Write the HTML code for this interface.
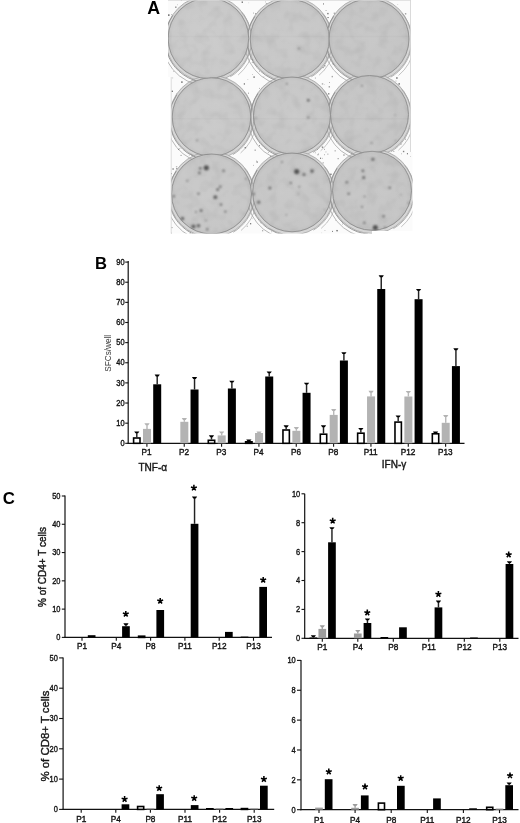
<!DOCTYPE html>
<html><head><meta charset="utf-8"><title>Figure</title>
<style>
html,body{margin:0;padding:0;background:#fff;overflow:hidden;}
svg{display:block;filter:blur(0.35px);}
.f{font-family:"Liberation Sans",sans-serif;}
.s{stroke:#111;stroke-width:0.38px;}
</style></head>
<body>
<svg width="520" height="823" viewBox="0 0 520 823">
<rect width="520" height="823" fill="#fff"/>
<defs>
<radialGradient id="pg0" cx="50%" cy="50%" r="50%"><stop offset="0" stop-color="rgb(203,203,203)"/><stop offset="0.9" stop-color="rgb(201,201,201)"/><stop offset="0.97" stop-color="rgb(196,196,196)"/><stop offset="1" stop-color="rgb(177,177,177)"/></radialGradient>
<radialGradient id="pg1" cx="50%" cy="50%" r="50%"><stop offset="0" stop-color="rgb(201,201,201)"/><stop offset="0.9" stop-color="rgb(199,199,199)"/><stop offset="0.97" stop-color="rgb(194,194,194)"/><stop offset="1" stop-color="rgb(175,175,175)"/></radialGradient>
<radialGradient id="pg2" cx="50%" cy="50%" r="50%"><stop offset="0" stop-color="rgb(199,199,199)"/><stop offset="0.9" stop-color="rgb(197,197,197)"/><stop offset="0.97" stop-color="rgb(192,192,192)"/><stop offset="1" stop-color="rgb(173,173,173)"/></radialGradient>
<radialGradient id="pg3" cx="50%" cy="50%" r="50%"><stop offset="0" stop-color="rgb(202,202,202)"/><stop offset="0.9" stop-color="rgb(200,200,200)"/><stop offset="0.97" stop-color="rgb(195,195,195)"/><stop offset="1" stop-color="rgb(176,176,176)"/></radialGradient>
<radialGradient id="pg4" cx="50%" cy="50%" r="50%"><stop offset="0" stop-color="rgb(201,201,201)"/><stop offset="0.9" stop-color="rgb(199,199,199)"/><stop offset="0.97" stop-color="rgb(194,194,194)"/><stop offset="1" stop-color="rgb(175,175,175)"/></radialGradient>
<radialGradient id="pg5" cx="50%" cy="50%" r="50%"><stop offset="0" stop-color="rgb(199,199,199)"/><stop offset="0.9" stop-color="rgb(197,197,197)"/><stop offset="0.97" stop-color="rgb(192,192,192)"/><stop offset="1" stop-color="rgb(173,173,173)"/></radialGradient>
<radialGradient id="pg6" cx="50%" cy="50%" r="50%"><stop offset="0" stop-color="rgb(201,201,201)"/><stop offset="0.9" stop-color="rgb(199,199,199)"/><stop offset="0.97" stop-color="rgb(194,194,194)"/><stop offset="1" stop-color="rgb(175,175,175)"/></radialGradient>
<radialGradient id="pg7" cx="50%" cy="50%" r="50%"><stop offset="0" stop-color="rgb(200,200,200)"/><stop offset="0.9" stop-color="rgb(198,198,198)"/><stop offset="0.97" stop-color="rgb(193,193,193)"/><stop offset="1" stop-color="rgb(174,174,174)"/></radialGradient>
<radialGradient id="pg8" cx="50%" cy="50%" r="50%"><stop offset="0" stop-color="rgb(199,199,199)"/><stop offset="0.9" stop-color="rgb(197,197,197)"/><stop offset="0.97" stop-color="rgb(192,192,192)"/><stop offset="1" stop-color="rgb(173,173,173)"/></radialGradient>
<filter id="bl" x="-1" y="-1" width="3" height="3"><feGaussianBlur stdDeviation="0.8"/></filter>
<filter id="bl2" x="-1" y="-1" width="3" height="3"><feGaussianBlur stdDeviation="0.45"/></filter>
<clipPath id="clipA"><path d="M168 0 H410.5 V152 H412.5 V231 H372 V233.5 H171 V77 H168 Z"/></clipPath>
</defs>
<g clip-path="url(#clipA)">
<rect x="168" y="0" width="246" height="236" fill="#fbfbfb"/>
<rect x="327.5" y="17.0" width="1.1" height="1.1" fill="rgb(94,94,94)"/>
<rect x="251.8" y="218.4" width="0.7" height="0.7" fill="rgb(177,177,177)"/>
<rect x="398.5" y="83.2" width="1.4" height="1.4" fill="rgb(99,99,99)"/>
<rect x="169.0" y="98.0" width="1.1" height="1.1" fill="rgb(164,164,164)"/>
<rect x="333.7" y="12.6" width="1.4" height="1.4" fill="rgb(170,170,170)"/>
<rect x="180.9" y="0.1" width="0.7" height="0.7" fill="rgb(108,108,108)"/>
<rect x="400.5" y="143.6" width="0.9" height="0.9" fill="rgb(88,88,88)"/>
<rect x="251.9" y="62.0" width="0.7" height="0.7" fill="rgb(111,111,111)"/>
<rect x="256.6" y="161.5" width="1.1" height="1.1" fill="rgb(76,76,76)"/>
<rect x="175.1" y="6.5" width="1.4" height="1.4" fill="rgb(141,141,141)"/>
<rect x="397.6" y="231.2" width="0.7" height="0.7" fill="rgb(163,163,163)"/>
<rect x="188.8" y="154.6" width="0.9" height="0.9" fill="rgb(169,169,169)"/>
<rect x="329.0" y="82.0" width="0.7" height="0.7" fill="rgb(103,103,103)"/>
<rect x="171.5" y="227.2" width="0.9" height="0.9" fill="rgb(96,96,96)"/>
<rect x="169.0" y="187.0" width="0.9" height="0.9" fill="rgb(114,114,114)"/>
<rect x="343.4" y="154.5" width="1.1" height="1.1" fill="rgb(106,106,106)"/>
<rect x="172.4" y="77.6" width="0.7" height="0.7" fill="rgb(145,145,145)"/>
<rect x="170.8" y="232.7" width="1.1" height="1.1" fill="rgb(176,176,176)"/>
<rect x="332.7" y="63.3" width="1.1" height="1.1" fill="rgb(74,74,74)"/>
<rect x="177.1" y="4.3" width="0.9" height="0.9" fill="rgb(199,199,199)"/>
<rect x="327.3" y="153.6" width="1.1" height="1.1" fill="rgb(170,170,170)"/>
<rect x="336.5" y="229.9" width="0.9" height="0.9" fill="rgb(157,157,157)"/>
<rect x="253.2" y="12.7" width="0.7" height="0.7" fill="rgb(103,103,103)"/>
<rect x="243.8" y="83.4" width="1.1" height="1.1" fill="rgb(70,70,70)"/>
<rect x="173.5" y="71.2" width="0.7" height="0.7" fill="rgb(129,129,129)"/>
<rect x="263.4" y="76.3" width="0.9" height="0.9" fill="rgb(196,196,196)"/>
<rect x="342.2" y="223.7" width="0.7" height="0.7" fill="rgb(128,128,128)"/>
<rect x="321.8" y="146.5" width="1.4" height="1.4" fill="rgb(132,132,132)"/>
<rect x="179.5" y="148.1" width="0.7" height="0.7" fill="rgb(120,120,120)"/>
<rect x="314.9" y="77.6" width="0.9" height="0.9" fill="rgb(147,147,147)"/>
<rect x="171.1" y="14.2" width="0.7" height="0.7" fill="rgb(138,138,138)"/>
<rect x="337.6" y="158.1" width="1.1" height="1.1" fill="rgb(144,144,144)"/>
<rect x="397.4" y="4.1" width="0.7" height="0.7" fill="rgb(187,187,187)"/>
<rect x="168.9" y="115.1" width="1.4" height="1.4" fill="rgb(185,185,185)"/>
<rect x="252.3" y="74.0" width="0.7" height="0.7" fill="rgb(154,154,154)"/>
<rect x="247.5" y="79.2" width="0.7" height="0.7" fill="rgb(171,171,171)"/>
<rect x="170.9" y="173.1" width="1.1" height="1.1" fill="rgb(134,134,134)"/>
<rect x="180.6" y="154.9" width="0.9" height="0.9" fill="rgb(108,108,108)"/>
<rect x="256.2" y="160.7" width="0.7" height="0.7" fill="rgb(125,125,125)"/>
<rect x="175.9" y="166.0" width="1.4" height="1.4" fill="rgb(191,191,191)"/>
<rect x="168.0" y="91.6" width="1.4" height="1.4" fill="rgb(189,189,189)"/>
<rect x="335.1" y="220.3" width="0.7" height="0.7" fill="rgb(187,187,187)"/>
<rect x="393.4" y="151.0" width="0.9" height="0.9" fill="rgb(147,147,147)"/>
<rect x="168.3" y="125.8" width="1.1" height="1.1" fill="rgb(187,187,187)"/>
<rect x="402.9" y="150.8" width="1.4" height="1.4" fill="rgb(132,132,132)"/>
<rect x="327.2" y="12.9" width="1.4" height="1.4" fill="rgb(119,119,119)"/>
<rect x="265.1" y="1.6" width="0.7" height="0.7" fill="rgb(144,144,144)"/>
<rect x="270.2" y="155.7" width="1.4" height="1.4" fill="rgb(107,107,107)"/>
<rect x="250.1" y="223.2" width="1.1" height="1.1" fill="rgb(81,81,81)"/>
<rect x="267.9" y="152.0" width="1.1" height="1.1" fill="rgb(193,193,193)"/>
<rect x="271.2" y="231.3" width="0.9" height="0.9" fill="rgb(184,184,184)"/>
<rect x="320.0" y="157.7" width="1.1" height="1.1" fill="rgb(101,101,101)"/>
<rect x="248.0" y="92.7" width="0.9" height="0.9" fill="rgb(132,132,132)"/>
<rect x="169.1" y="206.6" width="1.4" height="1.4" fill="rgb(129,129,129)"/>
<rect x="314.9" y="152.5" width="0.7" height="0.7" fill="rgb(122,122,122)"/>
<rect x="259.1" y="145.3" width="0.9" height="0.9" fill="rgb(89,89,89)"/>
<rect x="328.0" y="93.1" width="1.4" height="1.4" fill="rgb(139,139,139)"/>
<rect x="410.1" y="156.3" width="0.7" height="0.7" fill="rgb(176,176,176)"/>
<rect x="379.7" y="233.2" width="0.9" height="0.9" fill="rgb(163,163,163)"/>
<rect x="316.9" y="148.9" width="0.9" height="0.9" fill="rgb(92,92,92)"/>
<rect x="331.6" y="75.9" width="1.4" height="1.4" fill="rgb(169,169,169)"/>
<rect x="178.0" y="148.9" width="1.1" height="1.1" fill="rgb(91,91,91)"/>
<rect x="260.6" y="222.5" width="0.7" height="0.7" fill="rgb(104,104,104)"/>
<rect x="378.0" y="233.1" width="0.9" height="0.9" fill="rgb(98,98,98)"/>
<rect x="324.0" y="65.1" width="1.4" height="1.4" fill="rgb(153,153,153)"/>
<rect x="323.9" y="84.2" width="0.7" height="0.7" fill="rgb(185,185,185)"/>
<rect x="259.0" y="87.9" width="0.9" height="0.9" fill="rgb(164,164,164)"/>
<rect x="324.6" y="230.3" width="0.7" height="0.7" fill="rgb(150,150,150)"/>
<rect x="404.9" y="13.1" width="1.4" height="1.4" fill="rgb(159,159,159)"/>
<rect x="168.1" y="14.4" width="1.4" height="1.4" fill="rgb(76,76,76)"/>
<rect x="318.1" y="153.7" width="0.9" height="0.9" fill="rgb(120,120,120)"/>
<rect x="325.5" y="151.5" width="0.9" height="0.9" fill="rgb(176,176,176)"/>
<rect x="321.4" y="232.6" width="0.7" height="0.7" fill="rgb(192,192,192)"/>
<rect x="412.2" y="61.2" width="0.7" height="0.7" fill="rgb(79,79,79)"/>
<rect x="322.5" y="162.1" width="1.4" height="1.4" fill="rgb(190,190,190)"/>
<rect x="395.6" y="80.7" width="0.7" height="0.7" fill="rgb(106,106,106)"/>
<rect x="325.7" y="10.0" width="0.7" height="0.7" fill="rgb(87,87,87)"/>
<rect x="322.7" y="67.2" width="0.9" height="0.9" fill="rgb(95,95,95)"/>
<rect x="246.6" y="225.6" width="1.4" height="1.4" fill="rgb(198,198,198)"/>
<rect x="253.0" y="164.9" width="0.7" height="0.7" fill="rgb(125,125,125)"/>
<rect x="181.2" y="81.4" width="1.4" height="1.4" fill="rgb(94,94,94)"/>
<rect x="405.0" y="138.7" width="0.9" height="0.9" fill="rgb(136,136,136)"/>
<rect x="321.8" y="83.2" width="1.4" height="1.4" fill="rgb(172,172,172)"/>
<rect x="259.1" y="70.9" width="0.9" height="0.9" fill="rgb(179,179,179)"/>
<rect x="253.4" y="76.4" width="1.4" height="1.4" fill="rgb(109,109,109)"/>
<rect x="330.2" y="173.6" width="1.4" height="1.4" fill="rgb(113,113,113)"/>
<rect x="262.1" y="230.2" width="1.1" height="1.1" fill="rgb(147,147,147)"/>
<rect x="176.3" y="93.4" width="0.9" height="0.9" fill="rgb(181,181,181)"/>
<rect x="334.5" y="150.1" width="1.4" height="1.4" fill="rgb(186,186,186)"/>
<rect x="244.7" y="147.0" width="1.4" height="1.4" fill="rgb(95,95,95)"/>
<rect x="248.4" y="2.5" width="0.7" height="0.7" fill="rgb(195,195,195)"/>
<rect x="255.1" y="13.2" width="1.4" height="1.4" fill="rgb(140,140,140)"/>
<rect x="265.9" y="3.1" width="1.4" height="1.4" fill="rgb(177,177,177)"/>
<rect x="322.0" y="157.9" width="0.7" height="0.7" fill="rgb(137,137,137)"/>
<rect x="254.5" y="149.5" width="1.4" height="1.4" fill="rgb(175,175,175)"/>
<rect x="336.4" y="230.0" width="1.4" height="1.4" fill="rgb(117,117,117)"/>
<rect x="168.7" y="168.9" width="1.1" height="1.1" fill="rgb(141,141,141)"/>
<rect x="324.1" y="154.3" width="0.9" height="0.9" fill="rgb(162,162,162)"/>
<rect x="323.1" y="3.5" width="0.9" height="0.9" fill="rgb(72,72,72)"/>
<rect x="401.2" y="153.5" width="0.7" height="0.7" fill="rgb(134,134,134)"/>
<rect x="324.0" y="69.5" width="0.9" height="0.9" fill="rgb(196,196,196)"/>
<rect x="324.1" y="148.9" width="0.7" height="0.7" fill="rgb(77,77,77)"/>
<rect x="396.2" y="77.3" width="1.4" height="1.4" fill="rgb(94,94,94)"/>
<rect x="176.3" y="168.1" width="1.1" height="1.1" fill="rgb(102,102,102)"/>
<rect x="191.1" y="154.2" width="1.4" height="1.4" fill="rgb(157,157,157)"/>
<rect x="251.8" y="58.9" width="1.1" height="1.1" fill="rgb(83,83,83)"/>
<rect x="406.9" y="153.2" width="1.1" height="1.1" fill="rgb(100,100,100)"/>
<rect x="189.5" y="233.2" width="1.4" height="1.4" fill="rgb(172,172,172)"/>
<rect x="241.6" y="1.5" width="1.4" height="1.4" fill="rgb(118,118,118)"/>
<rect x="317.1" y="154.0" width="1.4" height="1.4" fill="rgb(198,198,198)"/>
<rect x="328.7" y="86.3" width="1.1" height="1.1" fill="rgb(105,105,105)"/>
<rect x="171.5" y="90.6" width="1.4" height="1.4" fill="rgb(109,109,109)"/>
<rect x="332.0" y="230.9" width="0.9" height="0.9" fill="rgb(92,92,92)"/>
<rect x="172.4" y="168.3" width="1.4" height="1.4" fill="rgb(132,132,132)"/>
<circle cx="208.4" cy="38.8" r="43.0" fill="#d6d6d6" stroke="#a3a3a3" stroke-width="0.8"/>
<circle cx="289.8" cy="39.5" r="42.300000000000004" fill="#d6d6d6" stroke="#a3a3a3" stroke-width="0.8"/>
<circle cx="369" cy="39.5" r="42.7" fill="#d6d6d6" stroke="#a3a3a3" stroke-width="0.8"/>
<circle cx="211.5" cy="117.5" r="42.0" fill="#d6d6d6" stroke="#a3a3a3" stroke-width="0.8"/>
<circle cx="292" cy="116.0" r="41.2" fill="#d6d6d6" stroke="#a3a3a3" stroke-width="0.8"/>
<circle cx="369.5" cy="115.0" r="41.7" fill="#d6d6d6" stroke="#a3a3a3" stroke-width="0.8"/>
<circle cx="211.5" cy="194.5" r="42.7" fill="#d6d6d6" stroke="#a3a3a3" stroke-width="0.8"/>
<circle cx="292" cy="192.9" r="42.1" fill="#d6d6d6" stroke="#a3a3a3" stroke-width="0.8"/>
<circle cx="372" cy="191.3" r="42.2" fill="#d6d6d6" stroke="#a3a3a3" stroke-width="0.8"/>
<g fill="none" filter="url(#bl2)">
<path d="M204.18 82.34A42.70 42.70 0 0 1 172.92 15.31" stroke="#8f8f8f" stroke-width="0.9"/>
<path d="M195.78 84.17A44.90 44.90 0 0 1 165.21 25.44" stroke="#a5a5a5" stroke-width="0.8"/>
<path d="M241.61 12.35A42.70 42.70 0 0 1 230.25 76.78" stroke="#a0a0a0" stroke-width="0.8"/>
<path d="M253.42 48.56A44.70 44.70 0 0 1 238.13 75.04" stroke="#b4b4b4" stroke-width="0.8"/>
<path d="M285.64 82.34A42.00 42.00 0 0 1 254.90 16.41" stroke="#8f8f8f" stroke-width="0.9"/>
<path d="M277.36 84.19A44.20 44.20 0 0 1 247.27 26.38" stroke="#a5a5a5" stroke-width="0.8"/>
<path d="M322.47 13.50A42.00 42.00 0 0 1 311.30 76.87" stroke="#a0a0a0" stroke-width="0.8"/>
<path d="M334.13 49.14A44.00 44.00 0 0 1 319.08 75.21" stroke="#b4b4b4" stroke-width="0.8"/>
<path d="M364.80 82.74A42.40 42.40 0 0 1 333.77 16.18" stroke="#8f8f8f" stroke-width="0.9"/>
<path d="M356.46 84.58A44.60 44.60 0 0 1 326.09 26.25" stroke="#a5a5a5" stroke-width="0.8"/>
<path d="M401.98 13.25A42.40 42.40 0 0 1 390.70 77.22" stroke="#a0a0a0" stroke-width="0.8"/>
<path d="M413.73 49.21A44.40 44.40 0 0 1 398.54 75.51" stroke="#b4b4b4" stroke-width="0.8"/>
<path d="M207.37 160.04A41.70 41.70 0 0 1 176.84 94.58" stroke="#8f8f8f" stroke-width="0.9"/>
<path d="M199.14 161.90A43.90 43.90 0 0 1 169.25 104.49" stroke="#a5a5a5" stroke-width="0.8"/>
<path d="M243.94 91.70A41.70 41.70 0 0 1 232.85 154.61" stroke="#a0a0a0" stroke-width="0.8"/>
<path d="M255.54 127.09A43.70 43.70 0 0 1 240.59 152.98" stroke="#b4b4b4" stroke-width="0.8"/>
<path d="M287.94 157.74A40.90 40.90 0 0 1 258.00 93.54" stroke="#8f8f8f" stroke-width="0.9"/>
<path d="M279.84 159.63A43.10 43.10 0 0 1 250.50 103.26" stroke="#a5a5a5" stroke-width="0.8"/>
<path d="M323.83 90.71A40.90 40.90 0 0 1 312.95 152.42" stroke="#a0a0a0" stroke-width="0.8"/>
<path d="M335.25 125.45A42.90 42.90 0 0 1 320.58 150.86" stroke="#b4b4b4" stroke-width="0.8"/>
<path d="M365.39 157.24A41.40 41.40 0 0 1 335.09 92.25" stroke="#8f8f8f" stroke-width="0.9"/>
<path d="M357.22 159.11A43.60 43.60 0 0 1 327.53 102.09" stroke="#a5a5a5" stroke-width="0.8"/>
<path d="M401.71 89.39A41.40 41.40 0 0 1 390.70 151.85" stroke="#a0a0a0" stroke-width="0.8"/>
<path d="M413.24 124.54A43.40 43.40 0 0 1 398.40 150.25" stroke="#b4b4b4" stroke-width="0.8"/>
<path d="M207.30 237.74A42.40 42.40 0 0 1 176.27 171.18" stroke="#8f8f8f" stroke-width="0.9"/>
<path d="M198.96 239.58A44.60 44.60 0 0 1 168.59 181.25" stroke="#a5a5a5" stroke-width="0.8"/>
<path d="M244.48 168.25A42.40 42.40 0 0 1 233.20 232.22" stroke="#a0a0a0" stroke-width="0.8"/>
<path d="M256.23 204.21A44.40 44.40 0 0 1 241.04 230.51" stroke="#b4b4b4" stroke-width="0.8"/>
<path d="M287.86 235.54A41.80 41.80 0 0 1 257.26 169.92" stroke="#8f8f8f" stroke-width="0.9"/>
<path d="M279.61 237.40A44.00 44.00 0 0 1 249.65 179.85" stroke="#a5a5a5" stroke-width="0.8"/>
<path d="M324.52 167.03A41.80 41.80 0 0 1 313.40 230.10" stroke="#a0a0a0" stroke-width="0.8"/>
<path d="M336.13 202.51A43.80 43.80 0 0 1 321.15 228.45" stroke="#b4b4b4" stroke-width="0.8"/>
<path d="M367.85 234.04A41.90 41.90 0 0 1 337.18 168.27" stroke="#8f8f8f" stroke-width="0.9"/>
<path d="M359.59 235.90A44.10 44.10 0 0 1 329.56 178.22" stroke="#a5a5a5" stroke-width="0.8"/>
<path d="M404.60 165.37A41.90 41.90 0 0 1 393.45 228.59" stroke="#a0a0a0" stroke-width="0.8"/>
<path d="M416.23 200.92A43.90 43.90 0 0 1 401.22 226.93" stroke="#b4b4b4" stroke-width="0.8"/>
</g>
<circle cx="208.4" cy="38.3" r="40.3" fill="url(#pg0)" stroke="#8e8e8e" stroke-width="0.9"/>
<circle cx="289.8" cy="39" r="39.6" fill="url(#pg1)" stroke="#8e8e8e" stroke-width="0.9"/>
<circle cx="369" cy="39" r="40" fill="url(#pg2)" stroke="#8e8e8e" stroke-width="0.9"/>
<circle cx="211.5" cy="117" r="39.3" fill="url(#pg3)" stroke="#8e8e8e" stroke-width="0.9"/>
<circle cx="292" cy="115.5" r="38.5" fill="url(#pg4)" stroke="#8e8e8e" stroke-width="0.9"/>
<circle cx="369.5" cy="114.5" r="39" fill="url(#pg5)" stroke="#8e8e8e" stroke-width="0.9"/>
<circle cx="211.5" cy="194" r="40" fill="url(#pg6)" stroke="#8e8e8e" stroke-width="0.9"/>
<circle cx="292" cy="192.4" r="39.4" fill="url(#pg7)" stroke="#8e8e8e" stroke-width="0.9"/>
<circle cx="372" cy="190.8" r="39.5" fill="url(#pg8)" stroke="#8e8e8e" stroke-width="0.9"/>
<defs><filter id="mdk" x="0" y="0" width="1" height="1" color-interpolation-filters="sRGB"><feTurbulence type="fractalNoise" baseFrequency="0.09" numOctaves="2" seed="5"/><feColorMatrix type="matrix" values="0 0 0 0 0  0 0 0 0 0  0 0 0 0 0  0.9 0 0 0 -0.42"/></filter><filter id="mlt" x="0" y="0" width="1" height="1" color-interpolation-filters="sRGB"><feTurbulence type="fractalNoise" baseFrequency="0.09" numOctaves="2" seed="5"/><feColorMatrix type="matrix" values="0 0 0 0 1  0 0 0 0 1  0 0 0 0 1  -0.9 0 0 0 0.48"/></filter><clipPath id="clipP"><circle cx="208.4" cy="38.3" r="39.3"/><circle cx="289.8" cy="39" r="38.6"/><circle cx="369" cy="39" r="39"/><circle cx="211.5" cy="117" r="38.3"/><circle cx="292" cy="115.5" r="37.5"/><circle cx="369.5" cy="114.5" r="38"/><circle cx="211.5" cy="194" r="39"/><circle cx="292" cy="192.4" r="38.4"/><circle cx="372" cy="190.8" r="38.5"/></clipPath></defs>
<g clip-path="url(#clipP)" opacity="0.13"><rect x="168" y="0" width="246" height="236" filter="url(#mdk)"/><rect x="168" y="0" width="246" height="236" filter="url(#mlt)"/></g>
<rect x="168" y="35.8" width="242" height="1.4" fill="#000" opacity="0.018"/>
<rect x="168" y="118" width="242" height="1.4" fill="#000" opacity="0.018"/>
<g filter="url(#bl)">
<circle cx="206.3" cy="167.8" r="2.6" fill="rgb(83,83,83)"/>
<circle cx="200.3" cy="168.3" r="1.4" fill="rgb(108,108,108)"/>
<circle cx="199.4" cy="173" r="1.4" fill="rgb(113,113,113)"/>
<circle cx="223.6" cy="170.7" r="1.3" fill="rgb(113,113,113)"/>
<circle cx="187.3" cy="180.8" r="1.1" fill="rgb(128,128,128)"/>
<circle cx="220.2" cy="186.8" r="1.3" fill="rgb(113,113,113)"/>
<circle cx="217.6" cy="189.4" r="1.5" fill="rgb(108,108,108)"/>
<circle cx="198.5" cy="193.7" r="1.2" fill="rgb(118,118,118)"/>
<circle cx="173.8" cy="196.3" r="1.2" fill="rgb(113,113,113)"/>
<circle cx="215.3" cy="197.2" r="1.9" fill="rgb(98,98,98)"/>
<circle cx="221" cy="204.6" r="1.3" fill="rgb(113,113,113)"/>
<circle cx="201.1" cy="210.5" r="1.5" fill="rgb(108,108,108)"/>
<circle cx="196" cy="212" r="1.0" fill="rgb(123,123,123)"/>
<circle cx="225.4" cy="211.6" r="1.2" fill="rgb(118,118,118)"/>
<circle cx="182.5" cy="218.5" r="1.7" fill="rgb(98,98,98)"/>
<circle cx="193.4" cy="226.6" r="2.0" fill="rgb(93,93,93)"/>
<circle cx="198.5" cy="225.8" r="1.8" fill="rgb(98,98,98)"/>
<circle cx="207.2" cy="229.2" r="1.3" fill="rgb(118,118,118)"/>
<circle cx="246" cy="178.7" r="1.0" fill="rgb(128,128,128)"/>
<circle cx="206" cy="220.5" r="0.9" fill="rgb(133,133,133)"/>
<circle cx="296.7" cy="171.6" r="2.6" fill="rgb(83,83,83)"/>
<circle cx="304" cy="174.6" r="1.5" fill="rgb(103,103,103)"/>
<circle cx="312" cy="171.1" r="1.8" fill="rgb(98,98,98)"/>
<circle cx="282" cy="162.1" r="1.0" fill="rgb(123,123,123)"/>
<circle cx="290.7" cy="182.9" r="1.2" fill="rgb(118,118,118)"/>
<circle cx="269.9" cy="188" r="1.5" fill="rgb(108,108,108)"/>
<circle cx="299.3" cy="186.7" r="1.0" fill="rgb(128,128,128)"/>
<circle cx="253.8" cy="194" r="1.3" fill="rgb(113,113,113)"/>
<circle cx="298.4" cy="194" r="0.8" fill="rgb(133,133,133)"/>
<circle cx="258.7" cy="202.2" r="1.6" fill="rgb(103,103,103)"/>
<circle cx="286.3" cy="214.9" r="0.8" fill="rgb(133,133,133)"/>
<circle cx="324.4" cy="209.7" r="0.8" fill="rgb(133,133,133)"/>
<circle cx="372.9" cy="159.2" r="1.5" fill="rgb(98,98,98)"/>
<circle cx="362.9" cy="170.8" r="1.4" fill="rgb(108,108,108)"/>
<circle cx="363.7" cy="177.4" r="1.5" fill="rgb(103,103,103)"/>
<circle cx="346.8" cy="182.3" r="1.3" fill="rgb(113,113,113)"/>
<circle cx="389.7" cy="187.8" r="1.3" fill="rgb(113,113,113)"/>
<circle cx="348.7" cy="193.8" r="1.3" fill="rgb(113,113,113)"/>
<circle cx="364.6" cy="196.4" r="1.0" fill="rgb(128,128,128)"/>
<circle cx="362" cy="206.8" r="1.1" fill="rgb(123,123,123)"/>
<circle cx="408.7" cy="203" r="1.0" fill="rgb(128,128,128)"/>
<circle cx="383.6" cy="216.3" r="1.3" fill="rgb(113,113,113)"/>
<circle cx="364.3" cy="222.7" r="1.2" fill="rgb(113,113,113)"/>
<circle cx="375.3" cy="227.6" r="2.6" fill="rgb(83,83,83)"/>
<circle cx="385" cy="227.2" r="1.0" fill="rgb(123,123,123)"/>
<circle cx="401" cy="194.7" r="0.8" fill="rgb(133,133,133)"/>
<circle cx="308.3" cy="100.2" r="1.2" fill="rgb(78,78,78)"/>
<circle cx="286.8" cy="83.7" r="0.9" fill="rgb(108,108,108)"/>
<circle cx="308.3" cy="117.5" r="1.0" fill="rgb(98,98,98)"/>
<circle cx="361.9" cy="85.7" r="0.9" fill="rgb(113,113,113)"/>
<circle cx="197" cy="140.4" r="0.9" fill="rgb(113,113,113)"/>
<circle cx="371.6" cy="142.9" r="0.9" fill="rgb(113,113,113)"/>
<circle cx="298.9" cy="48.5" r="0.9" fill="rgb(103,103,103)"/>
<circle cx="395" cy="115" r="0.8" fill="rgb(128,128,128)"/>
<circle cx="395.5" cy="140.5" r="0.8" fill="rgb(128,128,128)"/>
<circle cx="256" cy="118" r="0.8" fill="rgb(128,128,128)"/>
</g>
</g>
<line x1="168" y1="0.4" x2="410.5" y2="0.4" stroke="#d8d8d8" stroke-width="0.8"/>
<line x1="410.5" y1="0" x2="410.5" y2="152" stroke="#d0d0d0" stroke-width="0.8"/>
<line x1="171.2" y1="77" x2="171.2" y2="233.5" stroke="#d4d4d4" stroke-width="0.8"/>
<text x="147.3" y="13.5" class="f" font-size="17.8" font-weight="bold" fill="#000">A</text>
<text x="95" y="268.6" class="f" font-size="16.6" font-weight="bold" fill="#000">B</text>
<line x1="128.2" y1="261" x2="128.2" y2="443.90000000000003" stroke="#111" stroke-width="1.2"/>
<line x1="127.6" y1="443.3" x2="464.5" y2="443.3" stroke="#111" stroke-width="1.2"/>
<line x1="125.19999999999999" y1="443.30" x2="128.2" y2="443.30" stroke="#111" stroke-width="1.1"/>
<text transform="translate(124.60,445.90) scale(0.87,1)" class="f s" font-size="8.6" text-anchor="end" fill="#1a1a1a">0</text>
<line x1="125.19999999999999" y1="423.17" x2="128.2" y2="423.17" stroke="#111" stroke-width="1.1"/>
<text transform="translate(124.60,425.77) scale(0.87,1)" class="f s" font-size="8.6" text-anchor="end" fill="#1a1a1a">10</text>
<line x1="125.19999999999999" y1="403.03" x2="128.2" y2="403.03" stroke="#111" stroke-width="1.1"/>
<text transform="translate(124.60,405.63) scale(0.87,1)" class="f s" font-size="8.6" text-anchor="end" fill="#1a1a1a">20</text>
<line x1="125.19999999999999" y1="382.89" x2="128.2" y2="382.89" stroke="#111" stroke-width="1.1"/>
<text transform="translate(124.60,385.50) scale(0.87,1)" class="f s" font-size="8.6" text-anchor="end" fill="#1a1a1a">30</text>
<line x1="125.19999999999999" y1="362.76" x2="128.2" y2="362.76" stroke="#111" stroke-width="1.1"/>
<text transform="translate(124.60,365.36) scale(0.87,1)" class="f s" font-size="8.6" text-anchor="end" fill="#1a1a1a">40</text>
<line x1="125.19999999999999" y1="342.62" x2="128.2" y2="342.62" stroke="#111" stroke-width="1.1"/>
<text transform="translate(124.60,345.23) scale(0.87,1)" class="f s" font-size="8.6" text-anchor="end" fill="#1a1a1a">50</text>
<line x1="125.19999999999999" y1="322.49" x2="128.2" y2="322.49" stroke="#111" stroke-width="1.1"/>
<text transform="translate(124.60,325.09) scale(0.87,1)" class="f s" font-size="8.6" text-anchor="end" fill="#1a1a1a">60</text>
<line x1="125.19999999999999" y1="302.36" x2="128.2" y2="302.36" stroke="#111" stroke-width="1.1"/>
<text transform="translate(124.60,304.96) scale(0.87,1)" class="f s" font-size="8.6" text-anchor="end" fill="#1a1a1a">70</text>
<line x1="125.19999999999999" y1="282.22" x2="128.2" y2="282.22" stroke="#111" stroke-width="1.1"/>
<text transform="translate(124.60,284.82) scale(0.87,1)" class="f s" font-size="8.6" text-anchor="end" fill="#1a1a1a">80</text>
<line x1="125.19999999999999" y1="262.09" x2="128.2" y2="262.09" stroke="#111" stroke-width="1.1"/>
<text transform="translate(124.60,264.69) scale(0.87,1)" class="f s" font-size="8.6" text-anchor="end" fill="#1a1a1a">90</text>
<text transform="translate(111.2,353.3) rotate(-90)" class="f" font-size="8.2" text-anchor="middle" fill="#3a3a3a">SFCs/well</text>
<line x1="146.90" y1="443.3" x2="146.90" y2="446.7" stroke="#111" stroke-width="1.1"/>
<text x="146.60" y="455.0" class="f s" font-size="8.2" text-anchor="middle" fill="#1a1a1a">P1</text>
<line x1="136.80" y1="437.20" x2="136.80" y2="432.50" stroke="#222" stroke-width="1.45"/>
<path d="M134.20 431.40H139.40L138.10 433.30H135.50Z" fill="#000"/>
<rect x="133.60" y="438.00" width="6.40" height="5.30" fill="#fff" stroke="#000" stroke-width="1.6"/>
<line x1="147.00" y1="428.90" x2="147.00" y2="424.40" stroke="#b8b8b8" stroke-width="1.45"/>
<path d="M144.40 423.30H149.60L148.30 425.20H145.70Z" fill="#b3b3b3"/>
<rect x="143.00" y="428.90" width="8.00" height="14.40" fill="#b3b3b3"/>
<line x1="157.20" y1="384.30" x2="157.20" y2="375.60" stroke="#222" stroke-width="1.45"/>
<path d="M154.60 374.50H159.80L158.50 376.40H155.90Z" fill="#000"/>
<rect x="153.20" y="384.30" width="8.00" height="59.00" fill="#000"/>
<line x1="184.24" y1="443.3" x2="184.24" y2="446.7" stroke="#111" stroke-width="1.1"/>
<text x="183.94" y="455.0" class="f s" font-size="8.2" text-anchor="middle" fill="#1a1a1a">P2</text>
<line x1="184.34" y1="421.80" x2="184.34" y2="419.20" stroke="#b8b8b8" stroke-width="1.45"/>
<path d="M181.74 418.10H186.94L185.64 420.00H183.04Z" fill="#b3b3b3"/>
<rect x="180.34" y="421.80" width="8.00" height="21.50" fill="#b3b3b3"/>
<line x1="194.54" y1="389.50" x2="194.54" y2="378.20" stroke="#222" stroke-width="1.45"/>
<path d="M191.94 377.10H197.14L195.84 379.00H193.24Z" fill="#000"/>
<rect x="190.54" y="389.50" width="8.00" height="53.80" fill="#000"/>
<line x1="221.58" y1="443.3" x2="221.58" y2="446.7" stroke="#111" stroke-width="1.1"/>
<text x="221.28" y="455.0" class="f s" font-size="8.2" text-anchor="middle" fill="#1a1a1a">P3</text>
<line x1="211.48" y1="439.50" x2="211.48" y2="436.40" stroke="#222" stroke-width="1.45"/>
<path d="M208.88 435.30H214.08L212.78 437.20H210.18Z" fill="#000"/>
<rect x="208.28" y="440.30" width="6.40" height="3.00" fill="#fff" stroke="#000" stroke-width="1.6"/>
<line x1="221.68" y1="435.40" x2="221.68" y2="432.50" stroke="#b8b8b8" stroke-width="1.45"/>
<path d="M219.08 431.40H224.28L222.98 433.30H220.38Z" fill="#b3b3b3"/>
<rect x="217.68" y="435.40" width="8.00" height="7.90" fill="#b3b3b3"/>
<line x1="231.88" y1="388.50" x2="231.88" y2="381.80" stroke="#222" stroke-width="1.45"/>
<path d="M229.28 380.70H234.48L233.18 382.60H230.58Z" fill="#000"/>
<rect x="227.88" y="388.50" width="8.00" height="54.80" fill="#000"/>
<line x1="258.92" y1="443.3" x2="258.92" y2="446.7" stroke="#111" stroke-width="1.1"/>
<text x="258.62" y="455.0" class="f s" font-size="8.2" text-anchor="middle" fill="#1a1a1a">P4</text>
<line x1="248.82" y1="441.00" x2="248.82" y2="440.50" stroke="#222" stroke-width="1.45"/>
<path d="M246.22 439.40H251.42L250.12 441.30H247.52Z" fill="#000"/>
<rect x="245.62" y="441.80" width="6.40" height="1.50" fill="#fff" stroke="#000" stroke-width="1.6"/>
<line x1="259.02" y1="433.00" x2="259.02" y2="432.50" stroke="#b8b8b8" stroke-width="1.45"/>
<path d="M256.42 431.40H261.62L260.32 433.30H257.72Z" fill="#b3b3b3"/>
<rect x="255.02" y="433.00" width="8.00" height="10.30" fill="#b3b3b3"/>
<line x1="269.22" y1="376.50" x2="269.22" y2="372.50" stroke="#222" stroke-width="1.45"/>
<path d="M266.62 371.40H271.82L270.52 373.30H267.92Z" fill="#000"/>
<rect x="265.22" y="376.50" width="8.00" height="66.80" fill="#000"/>
<line x1="296.26" y1="443.3" x2="296.26" y2="446.7" stroke="#111" stroke-width="1.1"/>
<text x="295.96" y="455.0" class="f s" font-size="8.2" text-anchor="middle" fill="#1a1a1a">P6</text>
<line x1="286.16" y1="429.20" x2="286.16" y2="426.40" stroke="#222" stroke-width="1.45"/>
<path d="M283.56 425.30H288.76L287.46 427.20H284.86Z" fill="#000"/>
<rect x="282.96" y="430.00" width="6.40" height="13.30" fill="#fff" stroke="#000" stroke-width="1.6"/>
<line x1="296.36" y1="430.80" x2="296.36" y2="428.20" stroke="#b8b8b8" stroke-width="1.45"/>
<path d="M293.76 427.10H298.96L297.66 429.00H295.06Z" fill="#b3b3b3"/>
<rect x="292.36" y="430.80" width="8.00" height="12.50" fill="#b3b3b3"/>
<line x1="306.56" y1="392.80" x2="306.56" y2="383.80" stroke="#222" stroke-width="1.45"/>
<path d="M303.96 382.70H309.16L307.86 384.60H305.26Z" fill="#000"/>
<rect x="302.56" y="392.80" width="8.00" height="50.50" fill="#000"/>
<line x1="333.60" y1="443.3" x2="333.60" y2="446.7" stroke="#111" stroke-width="1.1"/>
<text x="333.30" y="455.0" class="f s" font-size="8.2" text-anchor="middle" fill="#1a1a1a">P8</text>
<line x1="323.50" y1="433.40" x2="323.50" y2="426.40" stroke="#222" stroke-width="1.45"/>
<path d="M320.90 425.30H326.10L324.80 427.20H322.20Z" fill="#000"/>
<rect x="320.30" y="434.20" width="6.40" height="9.10" fill="#fff" stroke="#000" stroke-width="1.6"/>
<line x1="333.70" y1="414.90" x2="333.70" y2="410.20" stroke="#b8b8b8" stroke-width="1.45"/>
<path d="M331.10 409.10H336.30L335.00 411.00H332.40Z" fill="#b3b3b3"/>
<rect x="329.70" y="414.90" width="8.00" height="28.40" fill="#b3b3b3"/>
<line x1="343.90" y1="360.50" x2="343.90" y2="353.30" stroke="#222" stroke-width="1.45"/>
<path d="M341.30 352.20H346.50L345.20 354.10H342.60Z" fill="#000"/>
<rect x="339.90" y="360.50" width="8.00" height="82.80" fill="#000"/>
<line x1="370.94" y1="443.3" x2="370.94" y2="446.7" stroke="#111" stroke-width="1.1"/>
<text x="370.64" y="455.0" class="f s" font-size="8.2" text-anchor="middle" fill="#1a1a1a">P11</text>
<line x1="360.84" y1="432.40" x2="360.84" y2="429.00" stroke="#222" stroke-width="1.45"/>
<path d="M358.24 427.90H363.44L362.14 429.80H359.54Z" fill="#000"/>
<rect x="357.64" y="433.20" width="6.40" height="10.10" fill="#fff" stroke="#000" stroke-width="1.6"/>
<line x1="371.04" y1="396.40" x2="371.04" y2="391.90" stroke="#b8b8b8" stroke-width="1.45"/>
<path d="M368.44 390.80H373.64L372.34 392.70H369.74Z" fill="#b3b3b3"/>
<rect x="367.04" y="396.40" width="8.00" height="46.90" fill="#b3b3b3"/>
<line x1="381.24" y1="289.00" x2="381.24" y2="276.40" stroke="#222" stroke-width="1.45"/>
<path d="M378.64 275.30H383.84L382.54 277.20H379.94Z" fill="#000"/>
<rect x="377.24" y="289.00" width="8.00" height="154.30" fill="#000"/>
<line x1="408.28" y1="443.3" x2="408.28" y2="446.7" stroke="#111" stroke-width="1.1"/>
<text x="407.98" y="455.0" class="f s" font-size="8.2" text-anchor="middle" fill="#1a1a1a">P12</text>
<line x1="398.18" y1="421.30" x2="398.18" y2="416.50" stroke="#222" stroke-width="1.45"/>
<path d="M395.58 415.40H400.78L399.48 417.30H396.88Z" fill="#000"/>
<rect x="394.98" y="422.10" width="6.40" height="21.20" fill="#fff" stroke="#000" stroke-width="1.6"/>
<line x1="408.38" y1="396.50" x2="408.38" y2="392.00" stroke="#b8b8b8" stroke-width="1.45"/>
<path d="M405.78 390.90H410.98L409.68 392.80H407.08Z" fill="#b3b3b3"/>
<rect x="404.38" y="396.50" width="8.00" height="46.80" fill="#b3b3b3"/>
<line x1="418.58" y1="299.20" x2="418.58" y2="290.00" stroke="#222" stroke-width="1.45"/>
<path d="M415.98 288.90H421.18L419.88 290.80H417.28Z" fill="#000"/>
<rect x="414.58" y="299.20" width="8.00" height="144.10" fill="#000"/>
<line x1="445.62" y1="443.3" x2="445.62" y2="446.7" stroke="#111" stroke-width="1.1"/>
<text x="445.32" y="455.0" class="f s" font-size="8.2" text-anchor="middle" fill="#1a1a1a">P13</text>
<line x1="435.52" y1="433.00" x2="435.52" y2="432.60" stroke="#222" stroke-width="1.45"/>
<path d="M432.92 431.50H438.12L436.82 433.40H434.22Z" fill="#000"/>
<rect x="432.32" y="433.80" width="6.40" height="9.50" fill="#fff" stroke="#000" stroke-width="1.6"/>
<line x1="445.72" y1="422.80" x2="445.72" y2="416.10" stroke="#b8b8b8" stroke-width="1.45"/>
<path d="M443.12 415.00H448.32L447.02 416.90H444.42Z" fill="#b3b3b3"/>
<rect x="441.72" y="422.80" width="8.00" height="20.50" fill="#b3b3b3"/>
<line x1="455.92" y1="366.10" x2="455.92" y2="349.40" stroke="#222" stroke-width="1.45"/>
<path d="M453.32 348.30H458.52L457.22 350.20H454.62Z" fill="#000"/>
<rect x="451.92" y="366.10" width="8.00" height="77.20" fill="#000"/>
<text x="138.5" y="470.8" class="f s" font-size="10" fill="#1a1a1a">TNF-α</text>
<text x="381.8" y="468.0" class="f s" font-size="10" fill="#1a1a1a">IFN-γ</text>
<text x="2.7" y="503.9" class="f" font-size="16.8" font-weight="bold" fill="#000">C</text>
<line x1="65" y1="495.5" x2="65" y2="638.0" stroke="#111" stroke-width="1.2"/>
<line x1="64.4" y1="637.4" x2="272" y2="637.4" stroke="#111" stroke-width="1.2"/>
<line x1="61.8" y1="637.40" x2="65" y2="637.40" stroke="#111" stroke-width="1.1"/>
<text transform="translate(60.50,640.30) scale(0.84,1)" class="f s" font-size="8.9" text-anchor="end" fill="#1a1a1a">0</text>
<line x1="61.8" y1="609.12" x2="65" y2="609.12" stroke="#111" stroke-width="1.1"/>
<text transform="translate(60.50,612.02) scale(0.84,1)" class="f s" font-size="8.9" text-anchor="end" fill="#1a1a1a">10</text>
<line x1="61.8" y1="580.84" x2="65" y2="580.84" stroke="#111" stroke-width="1.1"/>
<text transform="translate(60.50,583.74) scale(0.84,1)" class="f s" font-size="8.9" text-anchor="end" fill="#1a1a1a">20</text>
<line x1="61.8" y1="552.56" x2="65" y2="552.56" stroke="#111" stroke-width="1.1"/>
<text transform="translate(60.50,555.46) scale(0.84,1)" class="f s" font-size="8.9" text-anchor="end" fill="#1a1a1a">30</text>
<line x1="61.8" y1="524.28" x2="65" y2="524.28" stroke="#111" stroke-width="1.1"/>
<text transform="translate(60.50,527.18) scale(0.84,1)" class="f s" font-size="8.9" text-anchor="end" fill="#1a1a1a">40</text>
<line x1="61.8" y1="496.00" x2="65" y2="496.00" stroke="#111" stroke-width="1.1"/>
<text transform="translate(60.50,498.90) scale(0.84,1)" class="f s" font-size="8.9" text-anchor="end" fill="#1a1a1a">50</text>
<text transform="translate(46.3,567) rotate(-90)" font-size="10" text-anchor="middle" fill="#1a1a1a" class="f s">% of CD4+ T cells</text>
<line x1="82.00" y1="637.4" x2="82.00" y2="640.8" stroke="#111" stroke-width="1.1"/>
<text x="82.00" y="649.3" class="f s" font-size="8.2" text-anchor="middle" fill="#1a1a1a">P1</text>
<rect x="87.80" y="635.20" width="7.70" height="2.20" fill="#000"/>
<line x1="116.30" y1="637.4" x2="116.30" y2="640.8" stroke="#111" stroke-width="1.1"/>
<text x="116.30" y="649.3" class="f s" font-size="8.2" text-anchor="middle" fill="#1a1a1a">P4</text>
<line x1="125.95" y1="626.20" x2="125.95" y2="624.40" stroke="#222" stroke-width="1.45"/>
<path d="M123.35 623.30H128.55L127.25 625.20H124.65Z" fill="#000"/>
<rect x="122.10" y="626.20" width="7.70" height="11.20" fill="#000"/>
<path d="M125.80 614.00L125.80 610.90M125.80 614.00L128.75 613.04M125.80 614.00L127.62 616.51M125.80 614.00L123.98 616.51M125.80 614.00L122.85 613.04" stroke="#000" stroke-width="1.55" fill="none"/>
<line x1="150.60" y1="637.4" x2="150.60" y2="640.8" stroke="#111" stroke-width="1.1"/>
<text x="150.60" y="649.3" class="f s" font-size="8.2" text-anchor="middle" fill="#1a1a1a">P8</text>
<rect x="138.60" y="636.20" width="6.10" height="1.20" fill="#fff" stroke="#000" stroke-width="1.6"/>
<rect x="156.40" y="610.00" width="7.70" height="27.40" fill="#000"/>
<path d="M160.20 601.00L160.20 597.90M160.20 601.00L163.15 600.04M160.20 601.00L162.02 603.51M160.20 601.00L158.38 603.51M160.20 601.00L157.25 600.04" stroke="#000" stroke-width="1.55" fill="none"/>
<line x1="184.90" y1="637.4" x2="184.90" y2="640.8" stroke="#111" stroke-width="1.1"/>
<text x="184.90" y="649.3" class="f s" font-size="8.2" text-anchor="middle" fill="#1a1a1a">P11</text>
<line x1="194.55" y1="523.80" x2="194.55" y2="497.60" stroke="#222" stroke-width="1.45"/>
<path d="M191.95 496.50H197.15L195.85 498.40H193.25Z" fill="#000"/>
<rect x="190.70" y="523.80" width="7.70" height="113.60" fill="#000"/>
<path d="M193.90 487.90L193.90 484.80M193.90 487.90L196.85 486.94M193.90 487.90L195.72 490.41M193.90 487.90L192.08 490.41M193.90 487.90L190.95 486.94" stroke="#000" stroke-width="1.55" fill="none"/>
<line x1="219.20" y1="637.4" x2="219.20" y2="640.8" stroke="#111" stroke-width="1.1"/>
<text x="219.20" y="649.3" class="f s" font-size="8.2" text-anchor="middle" fill="#1a1a1a">P12</text>
<rect x="225.00" y="631.90" width="7.70" height="5.50" fill="#000"/>
<line x1="253.50" y1="637.4" x2="253.50" y2="640.8" stroke="#111" stroke-width="1.1"/>
<text x="253.50" y="649.3" class="f s" font-size="8.2" text-anchor="middle" fill="#1a1a1a">P13</text>
<rect x="240.70" y="636.60" width="7.70" height="0.80" fill="#000"/>
<rect x="259.30" y="586.90" width="7.70" height="50.50" fill="#000"/>
<path d="M263.20 580.00L263.20 576.90M263.20 580.00L266.15 579.04M263.20 580.00L265.02 582.51M263.20 580.00L261.38 582.51M263.20 580.00L260.25 579.04" stroke="#000" stroke-width="1.55" fill="none"/>
<line x1="304.7" y1="493.7" x2="304.7" y2="638.9" stroke="#111" stroke-width="1.2"/>
<line x1="304.09999999999997" y1="638.3" x2="518.5" y2="638.3" stroke="#111" stroke-width="1.2"/>
<line x1="301.5" y1="638.30" x2="304.7" y2="638.30" stroke="#111" stroke-width="1.1"/>
<text transform="translate(300.20,641.20) scale(0.84,1)" class="f s" font-size="8.9" text-anchor="end" fill="#1a1a1a">0</text>
<line x1="301.5" y1="609.40" x2="304.7" y2="609.40" stroke="#111" stroke-width="1.1"/>
<text transform="translate(300.20,612.30) scale(0.84,1)" class="f s" font-size="8.9" text-anchor="end" fill="#1a1a1a">2</text>
<line x1="301.5" y1="580.50" x2="304.7" y2="580.50" stroke="#111" stroke-width="1.1"/>
<text transform="translate(300.20,583.40) scale(0.84,1)" class="f s" font-size="8.9" text-anchor="end" fill="#1a1a1a">4</text>
<line x1="301.5" y1="551.60" x2="304.7" y2="551.60" stroke="#111" stroke-width="1.1"/>
<text transform="translate(300.20,554.50) scale(0.84,1)" class="f s" font-size="8.9" text-anchor="end" fill="#1a1a1a">6</text>
<line x1="301.5" y1="522.70" x2="304.7" y2="522.70" stroke="#111" stroke-width="1.1"/>
<text transform="translate(300.20,525.60) scale(0.84,1)" class="f s" font-size="8.9" text-anchor="end" fill="#1a1a1a">8</text>
<line x1="301.5" y1="493.80" x2="304.7" y2="493.80" stroke="#111" stroke-width="1.1"/>
<text transform="translate(300.20,496.70) scale(0.84,1)" class="f s" font-size="8.9" text-anchor="end" fill="#1a1a1a">10</text>
<line x1="322.30" y1="638.3" x2="322.30" y2="641.6999999999999" stroke="#111" stroke-width="1.1"/>
<text x="322.30" y="650.3" class="f s" font-size="8.2" text-anchor="middle" fill="#1a1a1a">P1</text>
<line x1="313.35" y1="637.50" x2="313.35" y2="636.30" stroke="#222" stroke-width="1.45"/>
<path d="M310.75 635.20H315.95L314.65 637.10H312.05Z" fill="#000"/>
<rect x="309.50" y="637.50" width="7.70" height="0.80" fill="#000"/>
<line x1="322.30" y1="628.90" x2="322.30" y2="626.40" stroke="#a0a0a0" stroke-width="1.45"/>
<path d="M319.70 625.30H324.90L323.60 627.20H321.00Z" fill="#9d9d9d"/>
<rect x="318.45" y="628.90" width="7.70" height="9.40" fill="#9d9d9d"/>
<line x1="331.95" y1="542.30" x2="331.95" y2="528.30" stroke="#222" stroke-width="1.45"/>
<path d="M329.35 527.20H334.55L333.25 529.10H330.65Z" fill="#000"/>
<rect x="328.10" y="542.30" width="7.70" height="96.00" fill="#000"/>
<path d="M332.70 520.90L332.70 517.80M332.70 520.90L335.65 519.94M332.70 520.90L334.52 523.41M332.70 520.90L330.88 523.41M332.70 520.90L329.75 519.94" stroke="#000" stroke-width="1.55" fill="none"/>
<line x1="357.80" y1="638.3" x2="357.80" y2="641.6999999999999" stroke="#111" stroke-width="1.1"/>
<text x="357.80" y="650.3" class="f s" font-size="8.2" text-anchor="middle" fill="#1a1a1a">P4</text>
<line x1="357.80" y1="633.50" x2="357.80" y2="631.00" stroke="#a0a0a0" stroke-width="1.45"/>
<path d="M355.20 629.90H360.40L359.10 631.80H356.50Z" fill="#9d9d9d"/>
<rect x="353.95" y="633.50" width="7.70" height="4.80" fill="#9d9d9d"/>
<line x1="367.45" y1="623.00" x2="367.45" y2="619.50" stroke="#222" stroke-width="1.45"/>
<path d="M364.85 618.40H370.05L368.75 620.30H366.15Z" fill="#000"/>
<rect x="363.60" y="623.00" width="7.70" height="15.30" fill="#000"/>
<path d="M367.30 612.70L367.30 609.60M367.30 612.70L370.25 611.74M367.30 612.70L369.12 615.21M367.30 612.70L365.48 615.21M367.30 612.70L364.35 611.74" stroke="#000" stroke-width="1.55" fill="none"/>
<line x1="393.30" y1="638.3" x2="393.30" y2="641.6999999999999" stroke="#111" stroke-width="1.1"/>
<text x="393.30" y="650.3" class="f s" font-size="8.2" text-anchor="middle" fill="#1a1a1a">P8</text>
<rect x="380.50" y="637.00" width="7.70" height="1.30" fill="#000"/>
<rect x="399.10" y="627.30" width="7.70" height="11.00" fill="#000"/>
<line x1="428.80" y1="638.3" x2="428.80" y2="641.6999999999999" stroke="#111" stroke-width="1.1"/>
<text x="428.80" y="650.3" class="f s" font-size="8.2" text-anchor="middle" fill="#1a1a1a">P11</text>
<line x1="438.45" y1="607.40" x2="438.45" y2="601.60" stroke="#222" stroke-width="1.45"/>
<path d="M435.85 600.50H441.05L439.75 602.40H437.15Z" fill="#000"/>
<rect x="434.60" y="607.40" width="7.70" height="30.90" fill="#000"/>
<path d="M438.40 594.20L438.40 591.10M438.40 594.20L441.35 593.24M438.40 594.20L440.22 596.71M438.40 594.20L436.58 596.71M438.40 594.20L435.45 593.24" stroke="#000" stroke-width="1.55" fill="none"/>
<line x1="464.30" y1="638.3" x2="464.30" y2="641.6999999999999" stroke="#111" stroke-width="1.1"/>
<text x="464.30" y="650.3" class="f s" font-size="8.2" text-anchor="middle" fill="#1a1a1a">P12</text>
<rect x="470.10" y="637.50" width="7.70" height="0.80" fill="#000"/>
<line x1="499.80" y1="638.3" x2="499.80" y2="641.6999999999999" stroke="#111" stroke-width="1.1"/>
<text x="499.80" y="650.3" class="f s" font-size="8.2" text-anchor="middle" fill="#1a1a1a">P13</text>
<line x1="509.45" y1="564.00" x2="509.45" y2="562.30" stroke="#222" stroke-width="1.45"/>
<path d="M506.85 561.20H512.05L510.75 563.10H508.15Z" fill="#000"/>
<rect x="505.60" y="564.00" width="7.70" height="74.30" fill="#000"/>
<path d="M508.70 554.70L508.70 551.60M508.70 554.70L511.65 553.74M508.70 554.70L510.52 557.21M508.70 554.70L506.88 557.21M508.70 554.70L505.75 553.74" stroke="#000" stroke-width="1.55" fill="none"/>
<line x1="63.1" y1="657.5" x2="63.1" y2="810.0" stroke="#111" stroke-width="1.2"/>
<line x1="62.5" y1="809.4" x2="274.2" y2="809.4" stroke="#111" stroke-width="1.2"/>
<line x1="59.1" y1="809.40" x2="63.1" y2="809.40" stroke="#111" stroke-width="1.1"/>
<text transform="translate(57.80,812.30) scale(0.84,1)" class="f s" font-size="8.9" text-anchor="end" fill="#1a1a1a">0</text>
<line x1="59.1" y1="779.10" x2="63.1" y2="779.10" stroke="#111" stroke-width="1.1"/>
<text transform="translate(57.80,782.00) scale(0.84,1)" class="f s" font-size="8.9" text-anchor="end" fill="#1a1a1a">10</text>
<line x1="59.1" y1="748.80" x2="63.1" y2="748.80" stroke="#111" stroke-width="1.1"/>
<text transform="translate(57.80,751.70) scale(0.84,1)" class="f s" font-size="8.9" text-anchor="end" fill="#1a1a1a">20</text>
<line x1="59.1" y1="718.50" x2="63.1" y2="718.50" stroke="#111" stroke-width="1.1"/>
<text transform="translate(57.80,721.40) scale(0.84,1)" class="f s" font-size="8.9" text-anchor="end" fill="#1a1a1a">30</text>
<line x1="59.1" y1="688.20" x2="63.1" y2="688.20" stroke="#111" stroke-width="1.1"/>
<text transform="translate(57.80,691.10) scale(0.84,1)" class="f s" font-size="8.9" text-anchor="end" fill="#1a1a1a">40</text>
<line x1="59.1" y1="657.90" x2="63.1" y2="657.90" stroke="#111" stroke-width="1.1"/>
<text transform="translate(57.80,660.80) scale(0.84,1)" class="f s" font-size="8.9" text-anchor="end" fill="#1a1a1a">50</text>
<text transform="translate(48.5,736) rotate(-90)" font-size="11.4" text-anchor="middle" fill="#1a1a1a" class="f s">% of CD8+ T cells</text>
<line x1="81.20" y1="809.4" x2="81.20" y2="812.8" stroke="#111" stroke-width="1.1"/>
<text x="81.20" y="822.3" class="f s" font-size="8.2" text-anchor="middle" fill="#1a1a1a">P1</text>
<line x1="115.80" y1="809.4" x2="115.80" y2="812.8" stroke="#111" stroke-width="1.1"/>
<text x="115.80" y="822.3" class="f s" font-size="8.2" text-anchor="middle" fill="#1a1a1a">P4</text>
<rect x="121.60" y="804.30" width="7.70" height="5.10" fill="#000"/>
<path d="M124.60 799.20L124.60 796.10M124.60 799.20L127.55 798.24M124.60 799.20L126.42 801.71M124.60 799.20L122.78 801.71M124.60 799.20L121.65 798.24" stroke="#000" stroke-width="1.55" fill="none"/>
<line x1="150.40" y1="809.4" x2="150.40" y2="812.8" stroke="#111" stroke-width="1.1"/>
<text x="150.40" y="822.3" class="f s" font-size="8.2" text-anchor="middle" fill="#1a1a1a">P8</text>
<rect x="137.60" y="806.50" width="6.10" height="2.90" fill="#fff" stroke="#000" stroke-width="1.6"/>
<rect x="146.55" y="808.20" width="7.70" height="1.20" fill="#9d9d9d"/>
<rect x="156.20" y="794.20" width="7.70" height="15.20" fill="#000"/>
<path d="M159.20 788.30L159.20 785.20M159.20 788.30L162.15 787.34M159.20 788.30L161.02 790.81M159.20 788.30L157.38 790.81M159.20 788.30L156.25 787.34" stroke="#000" stroke-width="1.55" fill="none"/>
<line x1="185.00" y1="809.4" x2="185.00" y2="812.8" stroke="#111" stroke-width="1.1"/>
<text x="185.00" y="822.3" class="f s" font-size="8.2" text-anchor="middle" fill="#1a1a1a">P11</text>
<rect x="190.80" y="805.10" width="7.70" height="4.30" fill="#000"/>
<path d="M194.20 798.30L194.20 795.20M194.20 798.30L197.15 797.34M194.20 798.30L196.02 800.81M194.20 798.30L192.38 800.81M194.20 798.30L191.25 797.34" stroke="#000" stroke-width="1.55" fill="none"/>
<line x1="219.60" y1="809.4" x2="219.60" y2="812.8" stroke="#111" stroke-width="1.1"/>
<text x="219.60" y="822.3" class="f s" font-size="8.2" text-anchor="middle" fill="#1a1a1a">P12</text>
<rect x="206.00" y="808.00" width="7.70" height="1.40" fill="#000"/>
<rect x="215.75" y="808.00" width="7.70" height="1.40" fill="#9d9d9d"/>
<rect x="225.40" y="808.00" width="7.70" height="1.40" fill="#000"/>
<line x1="254.20" y1="809.4" x2="254.20" y2="812.8" stroke="#111" stroke-width="1.1"/>
<text x="254.20" y="822.3" class="f s" font-size="8.2" text-anchor="middle" fill="#1a1a1a">P13</text>
<rect x="241.40" y="808.60" width="6.10" height="0.80" fill="#fff" stroke="#000" stroke-width="1.6"/>
<rect x="250.35" y="808.30" width="7.70" height="1.10" fill="#9d9d9d"/>
<rect x="260.00" y="785.70" width="7.70" height="23.70" fill="#000"/>
<path d="M263.90 779.20L263.90 776.10M263.90 779.20L266.85 778.24M263.90 779.20L265.72 781.71M263.90 779.20L262.08 781.71M263.90 779.20L260.95 778.24" stroke="#000" stroke-width="1.55" fill="none"/>
<line x1="301.0" y1="659.9" x2="301.0" y2="810.3000000000001" stroke="#111" stroke-width="1.2"/>
<line x1="300.4" y1="809.7" x2="518.5" y2="809.7" stroke="#111" stroke-width="1.2"/>
<line x1="297.0" y1="809.70" x2="301.0" y2="809.70" stroke="#111" stroke-width="1.1"/>
<text transform="translate(295.70,812.60) scale(0.84,1)" class="f s" font-size="8.9" text-anchor="end" fill="#1a1a1a">0</text>
<line x1="297.0" y1="779.84" x2="301.0" y2="779.84" stroke="#111" stroke-width="1.1"/>
<text transform="translate(295.70,782.74) scale(0.84,1)" class="f s" font-size="8.9" text-anchor="end" fill="#1a1a1a">2</text>
<line x1="297.0" y1="749.98" x2="301.0" y2="749.98" stroke="#111" stroke-width="1.1"/>
<text transform="translate(295.70,752.88) scale(0.84,1)" class="f s" font-size="8.9" text-anchor="end" fill="#1a1a1a">4</text>
<line x1="297.0" y1="720.12" x2="301.0" y2="720.12" stroke="#111" stroke-width="1.1"/>
<text transform="translate(295.70,723.02) scale(0.84,1)" class="f s" font-size="8.9" text-anchor="end" fill="#1a1a1a">6</text>
<line x1="297.0" y1="690.26" x2="301.0" y2="690.26" stroke="#111" stroke-width="1.1"/>
<text transform="translate(295.70,693.16) scale(0.84,1)" class="f s" font-size="8.9" text-anchor="end" fill="#1a1a1a">8</text>
<line x1="297.0" y1="660.40" x2="301.0" y2="660.40" stroke="#111" stroke-width="1.1"/>
<text transform="translate(295.70,663.30) scale(0.84,1)" class="f s" font-size="8.9" text-anchor="end" fill="#1a1a1a">10</text>
<line x1="319.00" y1="809.7" x2="319.00" y2="813.1" stroke="#111" stroke-width="1.1"/>
<text x="319.00" y="822.5" class="f s" font-size="8.2" text-anchor="middle" fill="#1a1a1a">P1</text>
<rect x="315.15" y="807.60" width="7.70" height="2.10" fill="#9d9d9d"/>
<rect x="324.80" y="779.20" width="7.70" height="30.50" fill="#000"/>
<path d="M328.80 771.70L328.80 768.60M328.80 771.70L331.75 770.74M328.80 771.70L330.62 774.21M328.80 771.70L326.98 774.21M328.80 771.70L325.85 770.74" stroke="#000" stroke-width="1.55" fill="none"/>
<line x1="355.10" y1="809.7" x2="355.10" y2="813.1" stroke="#111" stroke-width="1.1"/>
<text x="355.10" y="822.5" class="f s" font-size="8.2" text-anchor="middle" fill="#1a1a1a">P4</text>
<line x1="355.10" y1="807.80" x2="355.10" y2="805.20" stroke="#a0a0a0" stroke-width="1.45"/>
<path d="M352.50 804.10H357.70L356.40 806.00H353.80Z" fill="#9d9d9d"/>
<rect x="351.25" y="807.80" width="7.70" height="1.90" fill="#9d9d9d"/>
<rect x="360.90" y="795.40" width="7.70" height="14.30" fill="#000"/>
<path d="M365.00 786.70L365.00 783.60M365.00 786.70L367.95 785.74M365.00 786.70L366.82 789.21M365.00 786.70L363.18 789.21M365.00 786.70L362.05 785.74" stroke="#000" stroke-width="1.55" fill="none"/>
<line x1="391.20" y1="809.7" x2="391.20" y2="813.1" stroke="#111" stroke-width="1.1"/>
<text x="391.20" y="822.5" class="f s" font-size="8.2" text-anchor="middle" fill="#1a1a1a">P8</text>
<rect x="378.40" y="803.10" width="6.10" height="6.60" fill="#fff" stroke="#000" stroke-width="1.6"/>
<rect x="397.00" y="785.80" width="7.70" height="23.90" fill="#000"/>
<path d="M400.70 778.30L400.70 775.20M400.70 778.30L403.65 777.34M400.70 778.30L402.52 780.81M400.70 778.30L398.88 780.81M400.70 778.30L397.75 777.34" stroke="#000" stroke-width="1.55" fill="none"/>
<line x1="427.30" y1="809.7" x2="427.30" y2="813.1" stroke="#111" stroke-width="1.1"/>
<text x="427.30" y="822.5" class="f s" font-size="8.2" text-anchor="middle" fill="#1a1a1a">P11</text>
<rect x="433.10" y="798.40" width="7.70" height="11.30" fill="#000"/>
<line x1="463.40" y1="809.7" x2="463.40" y2="813.1" stroke="#111" stroke-width="1.1"/>
<text x="463.40" y="822.5" class="f s" font-size="8.2" text-anchor="middle" fill="#1a1a1a">P12</text>
<rect x="469.20" y="808.30" width="7.70" height="1.40" fill="#000"/>
<line x1="499.50" y1="809.7" x2="499.50" y2="813.1" stroke="#111" stroke-width="1.1"/>
<text x="499.50" y="822.5" class="f s" font-size="8.2" text-anchor="middle" fill="#1a1a1a">P13</text>
<rect x="486.70" y="807.30" width="6.10" height="2.40" fill="#fff" stroke="#000" stroke-width="1.6"/>
<rect x="495.65" y="808.50" width="7.70" height="1.20" fill="#9d9d9d"/>
<line x1="509.15" y1="785.20" x2="509.15" y2="783.50" stroke="#222" stroke-width="1.45"/>
<path d="M506.55 782.40H511.75L510.45 784.30H507.85Z" fill="#000"/>
<rect x="505.30" y="785.20" width="7.70" height="24.50" fill="#000"/>
<path d="M510.00 775.60L510.00 772.50M510.00 775.60L512.95 774.64M510.00 775.60L511.82 778.11M510.00 775.60L508.18 778.11M510.00 775.60L507.05 774.64" stroke="#000" stroke-width="1.55" fill="none"/>
</svg>
</body></html>
